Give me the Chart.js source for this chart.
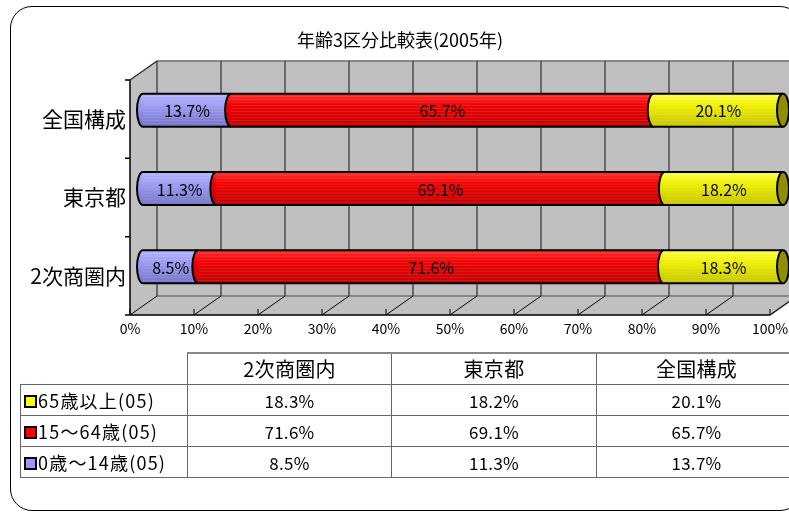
<!DOCTYPE html>
<html>
<head>
<meta charset="utf-8">
<script src="https://cdn.jsdelivr.net/npm/chart.js@4/dist/chart.umd.min.js"></script>
<style>
body { margin:0; width:789px; height:512px; overflow:hidden; position:relative; background:#fff; }
#frame { position:absolute; left:10px; top:6px; width:792px; height:505px; box-sizing:border-box;
  border:1.5px solid #000; border-radius:22px; }
#c { position:absolute; left:0; top:0; }
#tbl { position:absolute; left:20px; top:352px; width:776px; border-collapse:collapse; table-layout:fixed;
  font-family:"Noto Sans CJK JP", sans-serif; color:#000; }
#tbl td, #tbl th { border:1px solid #666; padding:0; text-align:center; font-weight:normal;
  height:30px; font-size:17px; line-height:17px; letter-spacing:0.3px; }
#tbl th { font-size:20px; line-height:20px; border-top:2px solid #888; }
#tbl th.blank { border:none; border-bottom:1px solid #666; }
#tbl td.name { text-align:left; font-size:18px; line-height:18px; letter-spacing:1.2px; white-space:nowrap; }
#tbl .dark { border-left:1px solid #000; }
.key { display:inline-block; width:9px; height:9px; border:2px solid #000; margin:0 1px 0 3px; vertical-align:0px; }
</style>
</head>
<body>
<div id="frame"></div>
<canvas id="c" width="789" height="512"></canvas>
<table id="tbl"></table>
<script>
// DONNEES
var categories = ['全国構成', '東京都', '2次商圏内'];
var seriesNames = ['0歳～14歳(05)', '15～64歳(05)', '65歳以上(05)'];
var children = [13.7, 11.3, 8.5];
var working = [65.7, 69.1, 71.6];
var seniors = [20.1, 18.2, 18.3];
var tickValues = [0, 10, 20, 30, 40, 50, 60, 70, 80, 90, 100];

var seriesValues = [children, working, seniors];
var baseColors = ['#9999ff', '#ff0000', '#ffff00'];
var gradStops = [
    ['#b4b4ff', '#9c9cf4', '#7474c8'],
    ['#ff3030', '#f00000', '#c00000'],
    ['#ffff50', '#f0f000', '#c4c400']
];

// barres empilees a 100% (comme Excel)
var totals = categories.map(function(c, j) {
    return children[j] + working[j] + seniors[j];
});

// decalage 3D : face avant / paroi du fond
var FRONT = { dx: -13, dy: 9 };
var BACK = { dx: 14, dy: -10 };

var font = '"Noto Sans CJK JP", sans-serif';

// MURS ET SOL 3D
var wallPlugin = {
    id: 'walls',
    beforeDatasetsDraw: function(chart) {
        var ctx = chart.ctx, a = chart.chartArea, xs = chart.scales.x;
        var x0 = xs.getPixelForValue(0), x1 = xs.getPixelForValue(100);
        ctx.save();
        ctx.fillStyle = '#c0c0c0';
        // fond
        ctx.fillRect(x0 + BACK.dx, a.top + BACK.dy, x1 - x0, a.bottom - a.top);
        // cote gauche
        ctx.beginPath();
        ctx.moveTo(x0 + FRONT.dx, a.top + FRONT.dy);
        ctx.lineTo(x0 + BACK.dx, a.top + BACK.dy);
        ctx.lineTo(x0 + BACK.dx, a.bottom + BACK.dy);
        ctx.lineTo(x0 + FRONT.dx, a.bottom + FRONT.dy);
        ctx.closePath();
        ctx.fill();
        // sol
        ctx.beginPath();
        ctx.moveTo(x0 + FRONT.dx, a.bottom + FRONT.dy);
        ctx.lineTo(x1 + FRONT.dx, a.bottom + FRONT.dy);
        ctx.lineTo(x1 + BACK.dx, a.bottom + BACK.dy);
        ctx.lineTo(x0 + BACK.dx, a.bottom + BACK.dy);
        ctx.closePath();
        ctx.fill();

        // bord haut du fond
        ctx.strokeStyle = '#888';
        ctx.lineWidth = 2;
        ctx.beginPath();
        ctx.moveTo(x0 + BACK.dx, a.top + BACK.dy);
        ctx.lineTo(x1 + BACK.dx + 20, a.top + BACK.dy);
        ctx.stroke();
        ctx.beginPath();
        ctx.moveTo(x0 + BACK.dx, a.bottom + BACK.dy);
        ctx.lineTo(x1 + BACK.dx, a.bottom + BACK.dy);
        ctx.moveTo(x1 + FRONT.dx, a.bottom + FRONT.dy);
        ctx.lineTo(x1 + BACK.dx, a.bottom + BACK.dy);
        ctx.stroke();

        // quadrillage
        tickValues.forEach(function(v) {
            var px = xs.getPixelForValue(v);
            ctx.strokeStyle = '#3a3a3a';
            ctx.lineWidth = 1.3;
            ctx.beginPath();
            ctx.moveTo(px + BACK.dx, a.top + BACK.dy);
            ctx.lineTo(px + BACK.dx, a.bottom + BACK.dy);
            ctx.stroke();
            ctx.strokeStyle = '#000';
            ctx.lineWidth = 1;
            ctx.beginPath();
            ctx.moveTo(px + FRONT.dx, a.bottom + FRONT.dy);
            ctx.lineTo(px + BACK.dx, a.bottom + BACK.dy);
            ctx.moveTo(px + FRONT.dx, a.bottom + FRONT.dy);
            ctx.lineTo(px + FRONT.dx, a.bottom + FRONT.dy - 6);
            ctx.stroke();
        });

        // axes avant
        ctx.strokeStyle = '#000';
        ctx.lineWidth = 1.5;
        ctx.beginPath();
        ctx.moveTo(x0 + FRONT.dx, a.bottom + FRONT.dy);
        ctx.lineTo(x1 + FRONT.dx, a.bottom + FRONT.dy);
        ctx.moveTo(x0 + FRONT.dx, a.top + FRONT.dy);
        ctx.lineTo(x0 + FRONT.dx, a.bottom + FRONT.dy);
        ctx.stroke();
        ctx.strokeStyle = '#333';
        ctx.beginPath();
        ctx.moveTo(x0 + FRONT.dx, a.top + FRONT.dy);
        ctx.lineTo(x0 + BACK.dx, a.top + BACK.dy);
        ctx.stroke();
        var band = (a.bottom - a.top) / categories.length;
        ctx.strokeStyle = '#000';
        ctx.beginPath();
        for (var i = 0; i <= categories.length; i++) {
            var yy = a.top + FRONT.dy + i * band;
            ctx.moveTo(x0 + FRONT.dx - 5, yy);
            ctx.lineTo(x0 + FRONT.dx, yy);
        }
        ctx.stroke();
        ctx.restore();
    }
};

// CYLINDRES + ETIQUETTES
var cylPlugin = {
    id: 'cylinders',
    afterDatasetsDraw: function(chart) {
        var ctx = chart.ctx;
        var rx = 6;
        ctx.save();
        chart.data.datasets.forEach(function(ds, di) {
            var meta = chart.getDatasetMeta(di);
            meta.data.forEach(function(el, j) {
                var p = el.getProps(['x', 'y', 'base', 'height'], true);
                var left = Math.min(p.x, p.base), right = Math.max(p.x, p.base);
                var top = p.y - p.height / 2, bottom = p.y + p.height / 2;
                var g = ctx.createLinearGradient(0, top, 0, bottom);
                g.addColorStop(0, gradStops[di][0]);
                g.addColorStop(0.35, gradStops[di][1]);
                g.addColorStop(1, gradStops[di][2]);
                ctx.beginPath();
                ctx.moveTo(left, top);
                ctx.lineTo(right, top);
                ctx.lineTo(right, bottom);
                ctx.lineTo(left, bottom);
                ctx.ellipse(left, p.y, rx, p.height / 2, 0, Math.PI / 2, Math.PI * 1.5, false);
                ctx.closePath();
                ctx.fillStyle = g;
                ctx.fill();
                // fines rayures
                ctx.strokeStyle = 'rgba(255,255,255,0.12)';
                ctx.lineWidth = 1;
                for (var s = top + 3; s < bottom - 2; s += 3) {
                    ctx.beginPath();
                    ctx.moveTo(left, s);
                    ctx.lineTo(right, s);
                    ctx.stroke();
                }
                ctx.strokeStyle = '#000';
                ctx.lineWidth = 2;
                ctx.beginPath();
                ctx.moveTo(left, top);
                ctx.lineTo(right, top);
                ctx.moveTo(left, bottom);
                ctx.lineTo(right, bottom);
                ctx.stroke();
                ctx.beginPath();
                ctx.ellipse(left, p.y, rx, p.height / 2, 0, Math.PI / 2, Math.PI * 1.5, false);
                ctx.stroke();
                if (di === chart.data.datasets.length - 1) {
                    ctx.beginPath();
                    ctx.ellipse(right, p.y, rx, p.height / 2, 0, 0, Math.PI * 2);
                    ctx.fillStyle = '#8f8f00';
                    ctx.fill();
                    ctx.stroke();
                }
            });
        });
        // etiquettes
        ctx.fillStyle = '#000';
        ctx.font = '16px ' + font;
        ctx.textAlign = 'center';
        ctx.textBaseline = 'middle';
        chart.data.datasets.forEach(function(ds, di) {
            chart.getDatasetMeta(di).data.forEach(function(el, j) {
                var p = el.getProps(['x', 'y', 'base'], true);
                ctx.fillText(seriesValues[di][j].toFixed(1) + '%', (p.x + p.base) / 2, p.y + 1);
            });
        });
        ctx.restore();
    }
};

new Chart(document.getElementById('c'), {
    type: 'bar',
    data: {
        labels: categories,
        datasets: seriesValues.map(function(vals, i) {
            return {
                label: seriesNames[i],
                data: vals.map(function(v, j) { return v / totals[j] * 100; }),
                backgroundColor: baseColors[i],
                borderWidth: 0,
                barThickness: 33
            };
        })
    },
    options: {
        indexAxis: 'y',
        responsive: false,
        animation: false,
        layout: { padding: { left: 17, right: 6, top: 0, bottom: 176 } },
        plugins: {
            legend: { display: false },
            tooltip: { enabled: false },
            title: {
                display: true,
                text: '年齢3区分比較表(2005年)',
                color: '#000',
                font: { family: font, size: 18, weight: 'normal' },
                padding: { top: 29, bottom: 20.4 }
            }
        },
        scales: {
            x: {
                stacked: true,
                min: 0,
                max: 100,
                grid: { display: false, drawTicks: false },
                border: { display: false },
                ticks: {
                    stepSize: 10,
                    labelOffset: FRONT.dx,
                    padding: 14,
                    color: '#000',
                    maxRotation: 0,
                    font: { family: font, size: 14 },
                    callback: function(v) { return v + '%'; }
                },
                afterFit: function(s) { s.height = 30; s.paddingLeft = 0; s.paddingRight = 0; }
            },
            y: {
                stacked: true,
                grid: { display: false, drawTicks: false },
                border: { display: false },
                ticks: {
                    labelOffset: FRONT.dy,
                    padding: 17,
                    color: '#000',
                    font: { family: font, size: 21 }
                },
                afterFit: function(s) { s.width = 126; }
            }
        }
    },
    plugins: [wallPlugin, cylPlugin]
});

// TABLEAU DE DONNEES
var keyColors = ['#ffff00', '#ff0000', '#9999ff'];
var rowSeries = [2, 1, 0];
var colCats = [2, 1, 0];
var html = '<colgroup><col style="width:167px"><col style="width:204px"><col style="width:205px"><col style="width:200px"></colgroup>';
html += '<tr><th class="blank"></th>';
colCats.forEach(function(c, k) { html += '<th' + (k === 2 ? ' class="dark"' : '') + '>' + categories[c] + '</th>'; });
html += '</tr>';
rowSeries.forEach(function(si, r) {
    html += '<tr><td class="name"><span class="key" style="background:' + keyColors[r] + '"></span>' + seriesNames[si] + '</td>';
    colCats.forEach(function(c, k) {
        html += '<td' + (k === 2 ? ' class="dark"' : '') + '>' + seriesValues[si][c].toFixed(1) + '%</td>';
    });
    html += '</tr>';
});
document.getElementById('tbl').innerHTML = html;
</script>
</body>
</html>
